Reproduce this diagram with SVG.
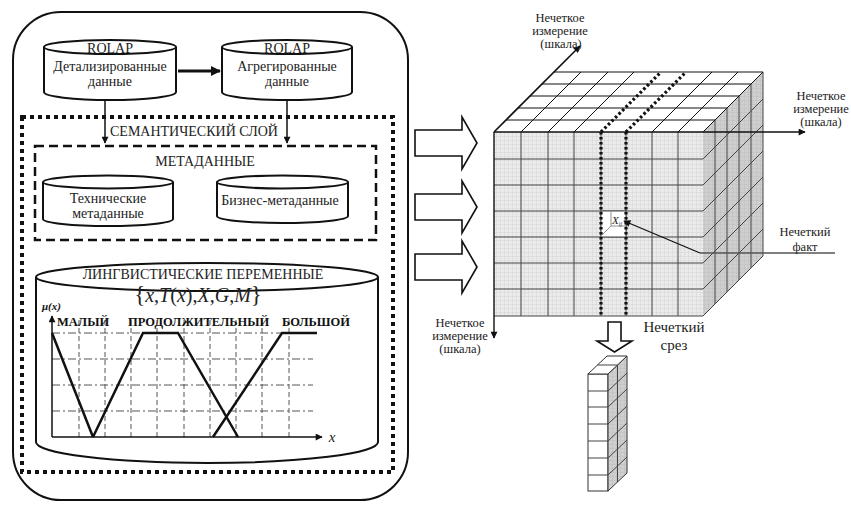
<svg xmlns="http://www.w3.org/2000/svg" width="851" height="507" viewBox="0 0 851 507">
<defs>
<style>
.t{font-family:"Liberation Serif","Times New Roman",serif;font-size:14px;fill:#222;text-anchor:middle}
.s{font-size:12.5px}
.b{font-weight:bold;text-anchor:start;font-size:12.5px;fill:#111}
.cyl{fill:#fff;stroke:#111;stroke-width:2}
.ln{fill:none;stroke:#111;stroke-width:1.5}
.grd{fill:none;stroke:#444;stroke-width:1}
.top{fill:none;stroke:#111;stroke-width:1}
.dot{fill:none;stroke:#111;stroke-width:3.2;stroke-dasharray:2.6 2.4}
.hx{fill:none;stroke:#555;stroke-width:1;stroke-dasharray:8 3 2 3}
.vx{fill:none;stroke:#555;stroke-width:1;stroke-dasharray:5 3}
.cv{fill:none;stroke:#111;stroke-width:2.5}
.blk{fill:#fff;stroke:#111;stroke-width:1.6}
</style>
<marker id="ah" viewBox="0 0 10 10" refX="9" refY="5" markerWidth="8" markerHeight="7" orient="auto" markerUnits="userSpaceOnUse"><path d="M0,0 L10,5 L0,10 z" fill="#111"/></marker>
<marker id="ahb" viewBox="0 0 10 10" refX="9" refY="5" markerWidth="12" markerHeight="10" orient="auto" markerUnits="userSpaceOnUse"><path d="M0,0 L10,5 L0,10 z" fill="#111"/></marker>
<pattern id="fine" width="4" height="4" patternUnits="userSpaceOnUse"><rect width="4" height="4" fill="#ebebeb"/><path d="M0 0.5H4M0.5 0V4" stroke="#dadada" stroke-width="0.7"/></pattern>
<pattern id="fine2" width="4" height="4" patternUnits="userSpaceOnUse"><rect width="4" height="4" fill="#cfcfcf"/><path d="M0 0.5H4M0.5 0V4" stroke="#c2c2c2" stroke-width="0.7"/></pattern>
</defs>

<g id="panel">
<rect x="13" y="12" width="395" height="488" rx="48" ry="48" fill="#fff" stroke="#111" stroke-width="2"/>
</g>

<g id="semantic-layer">
<rect x="22" y="117" width="371" height="355" fill="none" stroke="#111" stroke-width="4" stroke-dasharray="4 4"/>
<text class="t" x="194" y="136">СЕМАНТИЧЕСКИЙ СЛОЙ</text>
</g>

<g id="metadata">
<rect x="35" y="146" width="341" height="94" fill="none" stroke="#111" stroke-width="2.5" stroke-dasharray="9 5"/>
<text class="t" x="205" y="166">МЕТАДАННЫЕ</text>
</g>

<g id="rolap-detail">
<path class="cyl" d="M44,47 V92 A66,8 0 0 0 176,92 V47"/>
<ellipse class="cyl" cx="110" cy="47" rx="66" ry="7"/>
<text class="t" x="110" y="53">ROLAP</text>
<text class="t" x="110" y="71">Детализированные</text>
<text class="t" x="110" y="86">данные</text>
</g>

<g id="rolap-aggr">
<path class="cyl" d="M222,47 V92 A65,8 0 0 0 352,92 V47"/>
<ellipse class="cyl" cx="287" cy="47" rx="65" ry="7"/>
<text class="t" x="287" y="53">ROLAP</text>
<text class="t" x="287" y="71">Агрегированные</text>
<text class="t" x="287" y="86">данные</text>
</g>

<g id="tech-meta">
<path class="cyl" d="M43,182 V219 A65,7 0 0 0 173,219 V182"/>
<ellipse class="cyl" cx="108" cy="182" rx="65" ry="6.5"/>
<text class="t" x="108" y="203">Технические</text>
<text class="t" x="108" y="218">метаданные</text>
</g>

<g id="biz-meta">
<path class="cyl" d="M217,182 V216 A65.5,7 0 0 0 348,216 V182"/>
<ellipse class="cyl" cx="282.5" cy="182" rx="65.5" ry="6.5"/>
<text class="t" x="280" y="205">Бизнес-метаданные</text>
</g>

<g id="linguistic">
<path class="cyl" d="M36,277 V442 A171,21 0 0 0 378,442 V277"/>
<ellipse class="cyl" cx="207" cy="277" rx="171" ry="14"/>
<text class="t" x="203" y="279">ЛИНГВИСТИЧЕСКИЕ ПЕРЕМЕННЫЕ</text>
<text class="t" x="198" y="302" style="font-size:20px"><tspan style="font-size:23px">{</tspan><tspan font-style="italic">x</tspan>,<tspan font-style="italic">T</tspan>(<tspan font-style="italic">x</tspan>),<tspan font-style="italic">X</tspan>,<tspan font-style="italic">G</tspan>,<tspan font-style="italic">M</tspan><tspan style="font-size:23px">}</tspan></text>
<g id="chart">
<path class="hx" d="M52,333 H313 M52,359 H313 M52,385 H313 M52,411 H313"/>
<path class="vx" d="M79,320 V437 M105,320 V437 M131,320 V437 M157,320 V437 M184,320 V437 M210,320 V437 M236,320 V437 M262,320 V437 M289,320 V437"/>
<path class="ln" d="M52,437 H322" marker-end="url(#ah)"/>
<path class="ln" d="M52,437 V316" marker-end="url(#ah)"/>
<path class="cv" d="M52,333 L93,437"/>
<path class="cv" d="M93,437 L143,333 H178 L238,437"/>
<path class="cv" d="M213,437 L282,333 H317"/>
<text class="t b" x="42" y="310" style="font-style:italic;font-size:11px">μ(x)</text>
<text class="t b" x="57" y="326">МАЛЫЙ</text>
<text class="t b" x="128" y="326">ПРОДОЛЖИТЕЛЬНЫЙ</text>
<text class="t b" x="282" y="326">БОЛЬШОЙ</text>
<text class="t" x="332" y="442" style="font-style:italic;font-size:15px">x</text>
</g>
</g>

<g id="connectors">
<path d="M178,71 H220" fill="none" stroke="#111" stroke-width="2.8" marker-end="url(#ahb)"/>
<path class="ln" d="M105,100 V143" marker-end="url(#ah)"/>
<path class="ln" d="M287,100 V143" marker-end="url(#ah)"/>
</g>

<g id="block-arrows">
<polygon class="blk" points="415,130 462,130 462,117 477,143 462,169 462,156 415,156"/>
<polygon class="blk" points="415,194 462,194 462,181 477,207 462,233 462,220 415,220"/>
<polygon class="blk" points="415,254 462,254 462,241 477,267 462,293 462,280 415,280"/>
<polygon class="blk" points="608,322 621,322 621,341 632,341 614.5,352 597,341 608,341" stroke-width="2"/>
</g>

<g id="cube">
<rect x="494" y="132" width="209" height="184" fill="url(#fine)"/>
<polygon points="703,132 763,72 763,256 703,316" fill="url(#fine2)"/>
<polygon points="494,132 703,132 763,72 554,72" fill="#fff"/>
<path class="grd" d="M521,132V316M548,132V316M574,132V316M601,132V316M626,132V316M652,132V316M678,132V316
M494,159H703M494,185H703M494,211H703M494,237H703M494,263H703M494,289H703M494,316H703"/>
<rect x="601" y="211" width="25" height="26" fill="#fff" stroke="#444" stroke-width="1"/>
<path d="M611,212 V226 H626 M611,226 L602,235" fill="none" stroke="#777" stroke-width="0.8"/>
<text x="612" y="224" style="font-family:'Liberation Serif',serif;font-style:italic;font-size:11px;fill:#222">X<tspan font-size="6" dy="2">ij</tspan></text>
<path class="grd" d="M715,120V304M727,108V292M739,96V280M751,84V268M763,72V256
M703,159L763,99M703,185L763,125M703,211L763,151M703,237L763,177M703,263L763,203M703,289L763,229M703,316L763,256"/>
<path class="top" d="M521,132L581,72M548,132L608,72M574,132L634,72M652,132L712,72M678,132L738,72M703,132L763,72
M506,120H715M518,108H727M530,96H739M542,84H751M554,72H763"/>
<path class="dot" d="M601,132V316M626,132V316M601,132L661,72M626,132L686,72"/>
<path d="M494,132 L580,46" fill="none" stroke="#111" stroke-width="1.6" marker-end="url(#ah)"/>
<path d="M494,132 V338" fill="none" stroke="#111" stroke-width="1.4" marker-end="url(#ah)"/>
<path d="M494,132 H703" fill="none" stroke="#111" stroke-width="1.4"/>
<path d="M703,132 H805" fill="none" stroke="#111" stroke-width="1.3" marker-end="url(#ah)"/>
<path d="M700,253 L624,221" fill="none" stroke="#111" stroke-width="1.3" marker-end="url(#ah)"/>
<path d="M700,253 H835" fill="none" stroke="#555" stroke-width="1.3"/>
</g>

<g id="slice">
<rect x="588" y="374" width="20" height="117" fill="#fff" stroke="#333" stroke-width="1"/>
<polygon points="608,374 627,356 627,473 608,491" fill="url(#fine2)" stroke="#333" stroke-width="1"/>
<polygon points="588,374 608,374 627,356 607,356" fill="#fff" stroke="#333" stroke-width="1"/>
<path class="grd" d="M597.5,365H617.5M617.5,365V482
M588,391H608L627,373M588,407H608L627,389M588,424H608L627,406M588,441H608L627,423M588,458H608L627,440M588,475H608L627,457"/>
</g>

<g id="labels">
<text class="t s" x="560" y="22">Нечеткое</text>
<text class="t s" x="560" y="35">измерение</text>
<text class="t s" x="561" y="48">(шкала)</text>
<text class="t s" x="821" y="100">Нечеткое</text>
<text class="t s" x="821" y="113">измерение</text>
<text class="t s" x="821" y="126">(шкала)</text>
<text class="t s" x="460" y="327">Нечеткое</text>
<text class="t s" x="460" y="340">измерение</text>
<text class="t s" x="460" y="353">(шкала)</text>
<text class="t" x="674" y="332" style="font-size:15px">Нечеткий</text>
<text class="t" x="674" y="350" style="font-size:15px">срез</text>
<text class="t s" x="805" y="236">Нечеткий</text>
<text class="t s" x="805" y="251">факт</text>
</g>
</svg>
